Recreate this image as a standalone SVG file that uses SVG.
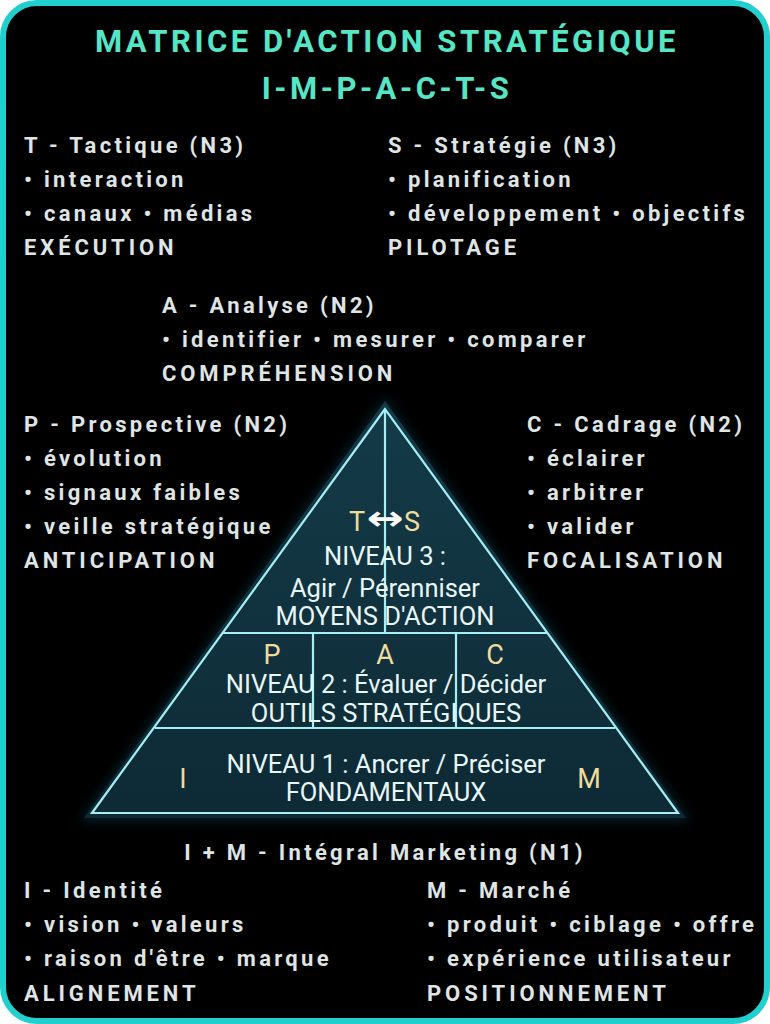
<svg xmlns="http://www.w3.org/2000/svg" width="770" height="1024" viewBox="0 0 770 1024">
<defs>
<style>
.side{font-family:Roboto,"Liberation Sans",sans-serif;font-weight:700;font-size:22px;letter-spacing:3.3px;fill:#dfe4e4}
.cap{letter-spacing:3.9px}
.title{font-family:Roboto,"Liberation Sans",sans-serif;font-weight:700;font-size:31px;letter-spacing:3.5px;fill:#55e6c6;text-anchor:middle}
.pt{font-family:Roboto,"Liberation Sans",sans-serif;font-weight:400;font-size:25.5px;fill:#e8f6f6;text-anchor:middle}
.lt{font-family:Roboto,"Liberation Sans",sans-serif;font-weight:400;font-size:27px;fill:#f0dc9c;text-anchor:middle}
.edge{stroke:#a6eef4;stroke-width:2.2;fill:none}
</style>
<linearGradient id="pg" x1="0" y1="0" x2="0" y2="1">
<stop offset="0" stop-color="#143b48"/>
<stop offset="1" stop-color="#0d2a35"/>
</linearGradient>
<filter id="glow" x="-20%" y="-20%" width="140%" height="140%">
<feGaussianBlur stdDeviation="6"/>
</filter>
</defs>
<rect x="0" y="0" width="770" height="1024" fill="#ffffff"/>
<rect x="3" y="3" width="764" height="1018" rx="34" ry="34" fill="#000000" stroke="#1fd0ce" stroke-width="6"/>

<g id="title">
<text class="title" x="387" y="52">MATRICE D'ACTION STRATÉGIQUE</text>
<text class="title" x="387" y="99">I-M-P-A-C-T-S</text>
</g>

<g id="tactique">
<text class="side" x="24" y="153">T - Tactique (N3)</text>
<text class="side" x="24" y="187">• interaction</text>
<text class="side" x="24" y="221">• canaux • médias</text>
<text class="side cap" x="24" y="255">EXÉCUTION</text>
</g>

<g id="strategie">
<text class="side" x="388" y="153">S - Stratégie (N3)</text>
<text class="side" x="388" y="187">• planification</text>
<text class="side" x="388" y="221">• développement • objectifs</text>
<text class="side cap" x="388" y="255">PILOTAGE</text>
</g>

<g id="analyse">
<text class="side" x="162" y="313">A - Analyse (N2)</text>
<text class="side" x="162" y="347">• identifier • mesurer • comparer</text>
<text class="side cap" x="162" y="381">COMPRÉHENSION</text>
</g>

<g id="prospective">
<text class="side" x="24" y="432">P - Prospective (N2)</text>
<text class="side" x="24" y="466">• évolution</text>
<text class="side" x="24" y="500">• signaux faibles</text>
<text class="side" x="24" y="534">• veille stratégique</text>
<text class="side cap" x="24" y="568">ANTICIPATION</text>
</g>

<g id="cadrage">
<text class="side" x="527" y="432">C - Cadrage (N2)</text>
<text class="side" x="527" y="466">• éclairer</text>
<text class="side" x="527" y="500">• arbitrer</text>
<text class="side" x="527" y="534">• valider</text>
<text class="side cap" x="527" y="568">FOCALISATION</text>
</g>

<g id="pyramid">
<polygon points="385,396 78,822 692,822" fill="#0d3440" opacity="0.55" filter="url(#glow)"/>
<polygon points="385,401 84,818 686,818" fill="url(#pg)"/>
<polygon class="edge" points="385,409 92,813 678,813"/>
<line class="edge" x1="223" y1="633" x2="547" y2="633"/>
<line class="edge" x1="155" y1="728" x2="615" y2="728"/>
<line class="edge" x1="385" y1="409" x2="385" y2="633"/>
<line class="edge" x1="313" y1="633" x2="313" y2="728"/>
<line class="edge" x1="456" y1="633" x2="456" y2="728"/>
</g>

<g id="niveau3">
<text class="lt" x="357" y="531">T</text>
<text x="0" y="0" transform="translate(385,530) scale(1.3,1)" style="font-family:'DejaVu Sans',sans-serif;font-weight:700;font-size:34px;fill:#ffffff;text-anchor:middle">↔</text>
<text class="lt" x="412" y="531">S</text>
<text class="pt" x="385" y="565">NIVEAU 3 :</text>
<text class="pt" x="385" y="597">Agir / Pérenniser</text>
<text class="pt" x="385" y="625">MOYENS D'ACTION</text>
</g>

<g id="niveau2">
<text class="lt" x="272" y="664">P</text>
<text class="lt" x="385" y="664">A</text>
<text class="lt" x="495" y="664">C</text>
<text class="pt" x="386" y="693">NIVEAU 2 : Évaluer / Décider</text>
<text class="pt" x="386" y="722">OUTILS STRATÉGIQUES</text>
</g>

<g id="niveau1">
<text class="lt" x="183" y="788">I</text>
<text class="lt" x="589" y="788">M</text>
<text class="pt" x="386" y="773">NIVEAU 1 : Ancrer / Préciser</text>
<text class="pt" x="386" y="801">FONDAMENTAUX</text>
</g>

<g id="integral">
<text class="side" x="385" y="860" style="text-anchor:middle">I + M - Intégral Marketing (N1)</text>
</g>

<g id="identite">
<text class="side" x="24" y="898">I - Identité</text>
<text class="side" x="24" y="932">• vision • valeurs</text>
<text class="side" x="24" y="966">• raison d'être • marque</text>
<text class="side cap" x="24" y="1001">ALIGNEMENT</text>
</g>

<g id="marche">
<text class="side" x="427" y="898">M - Marché</text>
<text class="side" x="427" y="932">• produit • ciblage • offre</text>
<text class="side" x="427" y="966">• expérience utilisateur</text>
<text class="side cap" x="427" y="1001">POSITIONNEMENT</text>
</g>
</svg>
